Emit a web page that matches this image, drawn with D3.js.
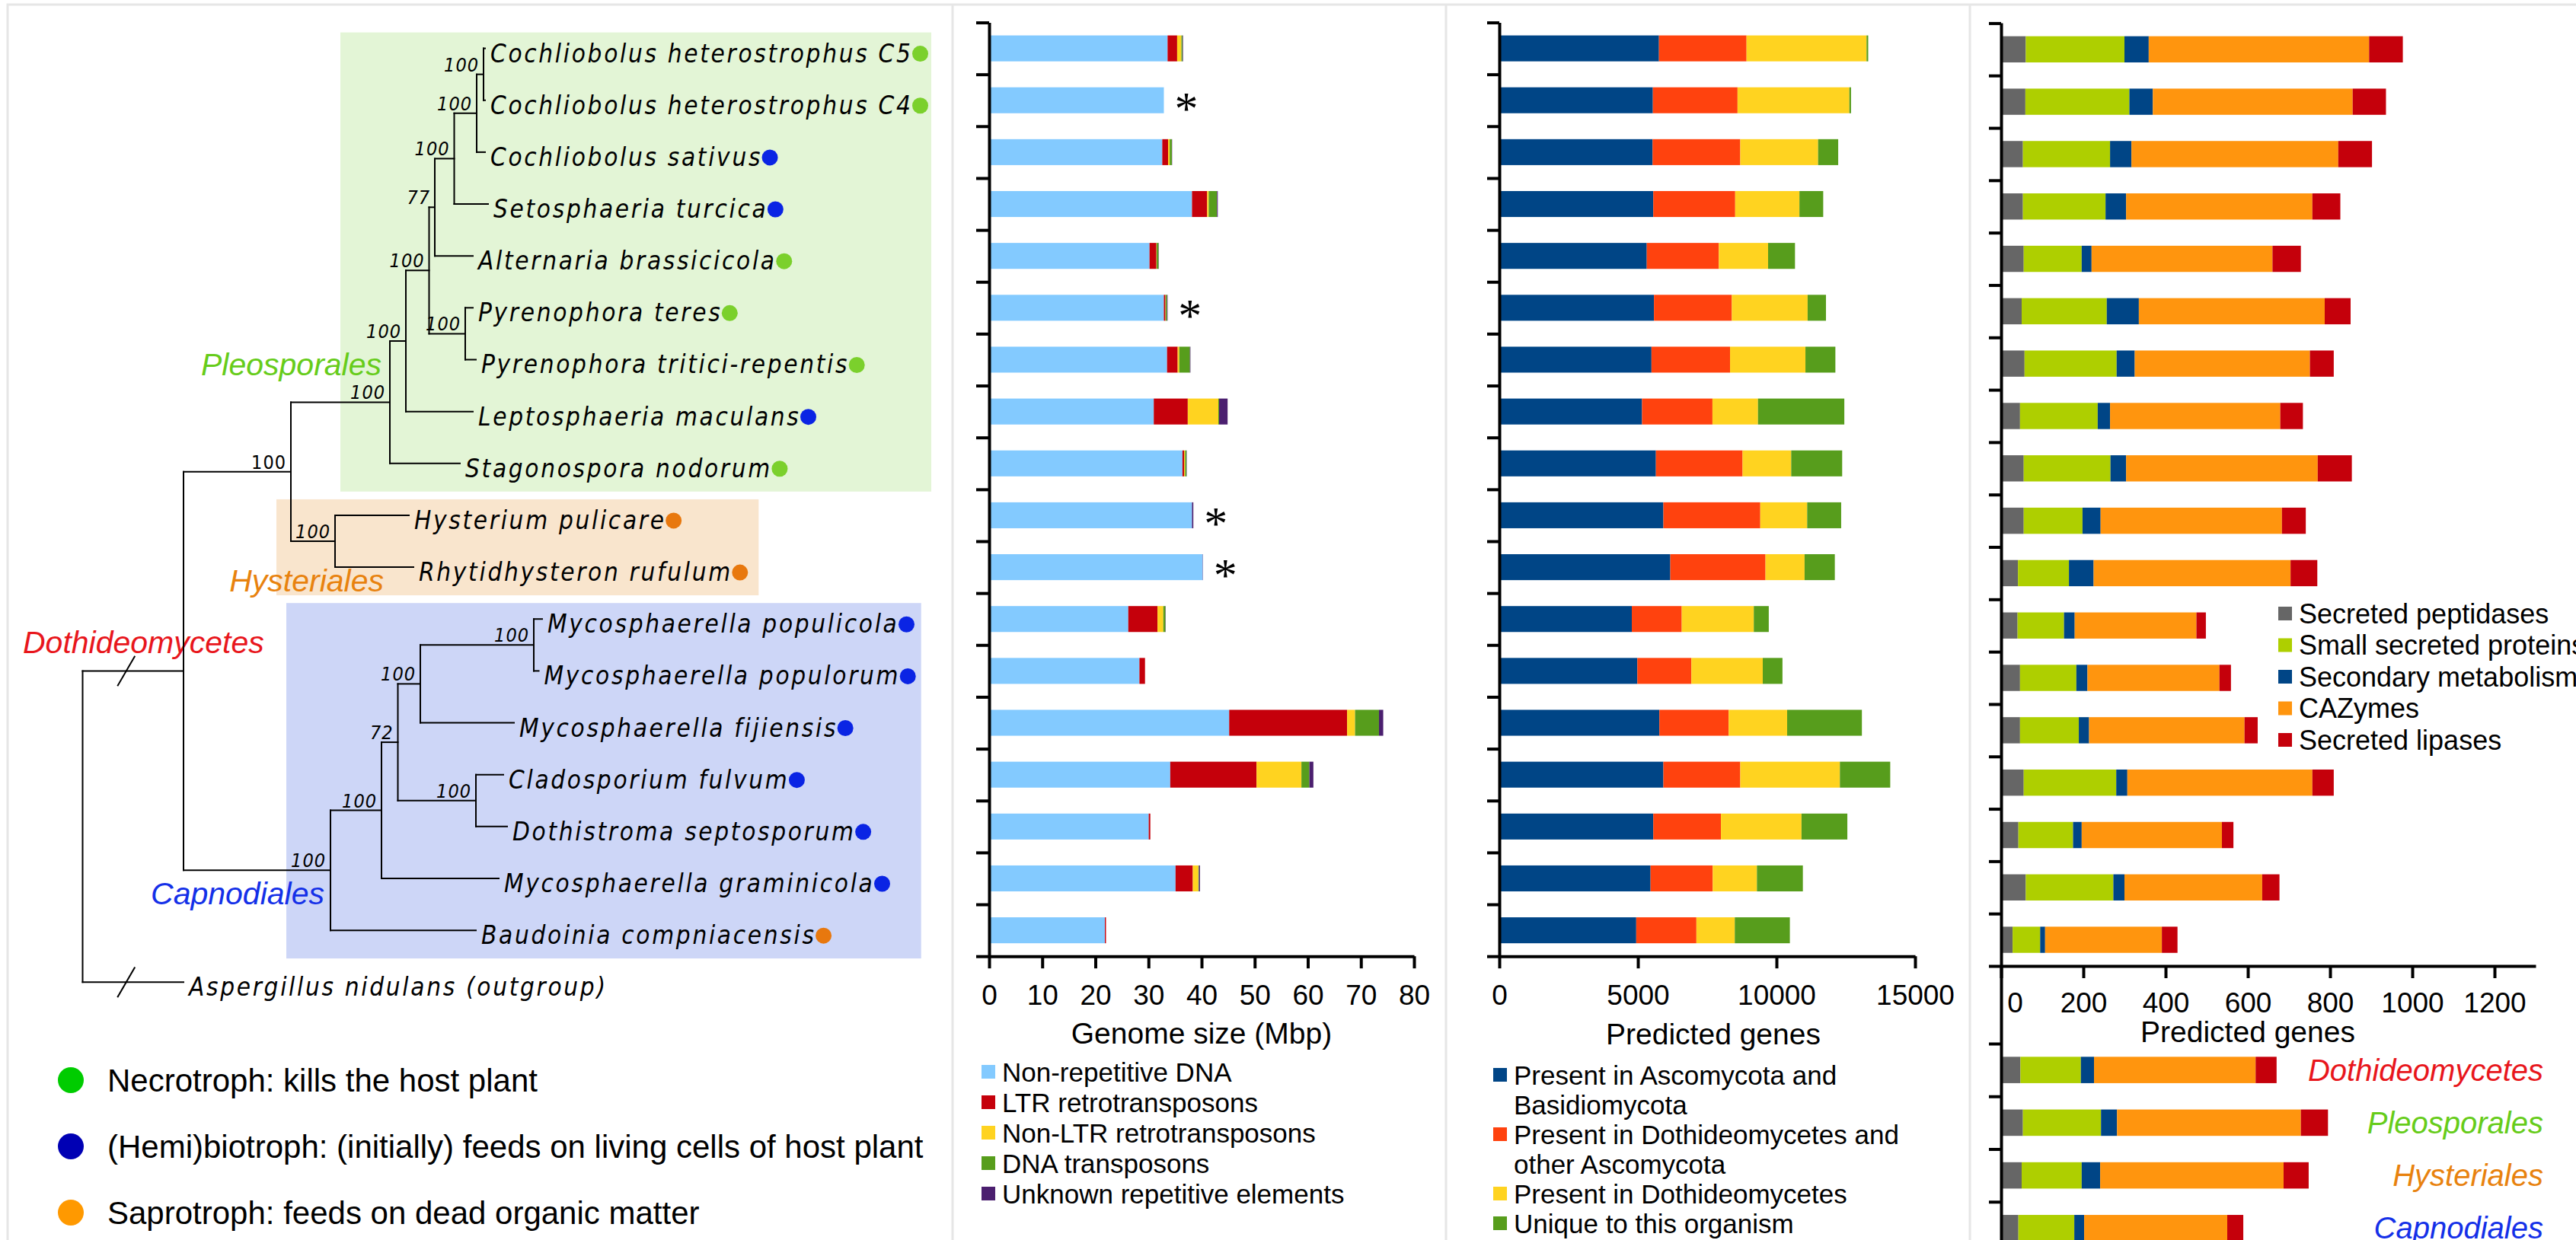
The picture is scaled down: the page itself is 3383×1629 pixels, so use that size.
<!DOCTYPE html>
<html>
<head>
<meta charset="utf-8">
<title>Dothideomycetes genomes: phylogeny, genome size, gene conservation and secretome</title>
<script src="https://cdn.jsdelivr.net/npm/d3@7/dist/d3.min.js"></script>
<style>
  html, body { margin: 0; padding: 0; background: #fff; }
  svg { display: block; }
</style>
</head>
<body>
<svg id="fig" width="3383" height="1629"></svg>
<script>
// ---------------------------------------------------------------------------
// Data
// ---------------------------------------------------------------------------

// Species in tree order, top to bottom
const species = [
  "Cochliobolus heterostrophus C5",
  "Cochliobolus heterostrophus C4",
  "Cochliobolus sativus",
  "Setosphaeria turcica",
  "Alternaria brassicicola",
  "Pyrenophora teres",
  "Pyrenophora tritici-repentis",
  "Leptosphaeria maculans",
  "Stagonospora nodorum",
  "Hysterium pulicare",
  "Rhytidhysteron rufulum",
  "Mycosphaerella populicola",
  "Mycosphaerella populorum",
  "Mycosphaerella fijiensis",
  "Cladosporium fulvum",
  "Dothistroma septosporum",
  "Mycosphaerella graminicola",
  "Baudoinia compniacensis"
];
const outgroupName = "Aspergillus nidulans (outgroup)";

// N = necrotroph, H = (hemi)biotroph, S = saprotroph
const lifestyle = ["N","N","H","H","N","N","N","H","N","S","S","H","H","H","H","H","H","S"];

// Assemblies without repeat annotation (marked with an asterisk)
const draftAssembly = [false,true,false,false,false,true,false,false,false,true,true,false,false,false,false,false,false,false];

// Phylogeny (leaf names are indices into species; 18 = outgroup), with bootstrap support
const newick = "((((((((((0:0.002,1:0.002)100:0.009,2:0.011)100:0.0295,3:0.0445)100:0.0255,4:0.050)77:0.0075,(5:0.010,6:0.014)100:0.0475)100:0.0305,7:0.088)100:0.021,8:0.092)100:0.130,(9:0.097,10:0.103)100:0.058)100:0.141,(((((11:0.011,12:0.0065)100:0.149,13:0.123)100:0.0295,(14:0.036,15:0.041)100:0.1025)72:0.0215,16:0.154)100:0.067,17:0.191)100:0.193):0.1325,18:0.1325);";

// Clades shaded in the tree (first and last species index)
const clades = ["Pleosporales", "Hysteriales", "Capnodiales"];
const cladeFirst = [0, 9, 11];
const cladeLast = [8, 10, 17];

// Genome size composition (Mbp)
const genomeKeys = ["Non-repetitive DNA", "LTR retrotransposons", "Non-LTR retrotransposons", "DNA transposons", "Unknown repetitive elements"];
const nonRepetitive  = [33.6, 32.9, 32.6, 38.2, 30.2, 32.9, 33.5, 31.0, 36.4, 38.2, 40.2, 26.2, 28.3, 45.2, 34.1, 30.05, 35.1, 21.8];
const ltr            = [1.8, 0, 1.1, 2.85, 1.3, 0.3, 2.0, 6.4, 0.3, 0, 0, 5.5, 1.05, 22.2, 16.25, 0.3, 3.25, 0.2];
const nonLtr         = [0.8, 0, 0.3, 0.3, 0.05, 0.05, 0.3, 5.75, 0.2, 0, 0, 1.1, 0, 1.5, 8.45, 0, 1.05, 0];
const dnaTransposons = [0.2, 0, 0.4, 1.55, 0.35, 0.25, 2.0, 0.15, 0.25, 0, 0, 0.4, 0, 4.5, 1.5, 0, 0.1, 0];
const unknownRepeats = [0.1, 0, 0.05, 0.15, 0.05, 0.1, 0.1, 1.6, 0.05, 0.25, 0.05, 0.05, 0, 0.8, 0.75, 0, 0.2, 0];
const genomeTicks = [0, 10, 20, 30, 40, 50, 60, 70, 80];

// Predicted genes by conservation class
const geneKeys = ["Present in Ascomycota and Basidiomycota", "Present in Dothideomycetes and other Ascomycota", "Present in Dothideomycetes", "Unique to this organism"];
const geneLegendLines = [["Present in Ascomycota and", "Basidiomycota"], ["Present in Dothideomycetes and", "other Ascomycota"], ["Present in Dothideomycetes"], ["Unique to this organism"]];
const ascoBasidio = [5760, 5540, 5530, 5555, 5320, 5580, 5490, 5150, 5650, 5920, 6170, 4780, 4980, 5775, 5920, 5555, 5457, 4940];
const dothiAsco   = [3160, 3055, 3165, 2955, 2600, 2810, 2835, 2540, 3127, 3496, 3434, 1802, 1950, 2500, 2775, 2441, 2244, 2171];
const dothiOnly   = [4330, 4035, 2807, 2318, 1778, 2734, 2720, 1643, 1755, 1692, 1410, 2600, 2575, 2110, 3593, 2907, 1594, 1385];
const uniqueGenes = [60, 60, 725, 858, 970, 662, 1080, 3115, 1838, 1226, 1091, 540, 711, 2697, 1816, 1654, 1657, 1987];
const geneTicks = [0, 5000, 10000, 15000];

// Secretome and secondary metabolism gene counts
const secretomeKeys = ["Secreted peptidases", "Small secreted proteins", "Secondary metabolism", "CAZymes", "Secreted lipases"];
const peptidases    = [60, 59, 53, 53, 55, 50, 57, 46, 55, 55, 41, 40, 46, 46, 55, 42, 60, 28];
const smallSecreted = [240, 253, 212, 201, 141, 207, 224, 189, 211, 143, 124, 113, 137, 143, 225, 133, 213, 67];
const secondaryMet  = [59, 57, 52, 50, 24, 78, 44, 30, 38, 44, 60, 26, 27, 25, 27, 21, 27, 12];
const cazymes       = [536, 486, 503, 453, 440, 452, 426, 414, 466, 441, 479, 296, 321, 378, 450, 341, 335, 284];
const lipases       = [82, 81, 82, 68, 69, 63, 58, 55, 83, 58, 65, 23, 28, 32, 52, 28, 42, 38];
const secretomeTicks = [0, 200, 400, 600, 800, 1000, 1200];

// Group averages of the secretome classes
const groups = ["Dothideomycetes", "Pleosporales", "Hysteriales", "Capnodiales"];
const avgPeptidases    = [47, 53, 50, 42];
const avgSmallSecreted = [147, 190, 146, 136];
const avgSecondaryMet  = [32, 39, 45, 24];
const avgCazymes       = [393, 447, 446, 348];
const avgLipases       = [51, 66, 61, 39];

// Lifestyle legend
const lifestyleKeys = ["N", "H", "S"];
const lifestyleText = [
  "Necrotroph: kills the host plant",
  "(Hemi)biotroph: (initially) feeds on living cells of host plant",
  "Saprotroph: feeds on dead organic matter"
];

// ---------------------------------------------------------------------------
// Styles
// ---------------------------------------------------------------------------
const SANS = "'Liberation Sans', Arial, sans-serif";
const TREEFONT = "'DejaVu Sans Condensed', 'DejaVu Sans', sans-serif";
const genomeColors = ["#83caff", "#c5000b", "#ffd320", "#579d1c", "#4b1f6f"];
const geneColors = ["#004586", "#ff420e", "#ffd320", "#579d1c"];
const secretomeColors = ["#666666", "#aecf00", "#004586", "#ff950e", "#c5000b"];
const dotColor = { N: "#7bd02c", H: "#0a24e4", S: "#e8780e" };
const legendDotColor = { N: "#00cc00", H: "#0000b4", S: "#ff9900" };
const cladeFill = { Pleosporales: "#e3f5d6", Hysteriales: "#f9e5cd", Capnodiales: "#cdd6f7" };
const groupColor = { Dothideomycetes: "#e8161c", Pleosporales: "#66cc1a", Hysteriales: "#e8820e", Capnodiales: "#1430e8" };
const plain = d3.format("d");

const svg = d3.select("#fig");
svg.append("rect").attr("width", 3383).attr("height", 1629).attr("fill", "#fff");

// Panel frames
const frame = svg.append("g").attr("stroke", "#e6e6e6").attr("stroke-width", 3).attr("fill", "none");
frame.append("path").attr("d", "M10,1629V6H3383");
[1251, 1899, 2587].forEach(x => frame.append("line").attr("x1", x).attr("x2", x).attr("y1", 6).attr("y2", 1629));

// ---------------------------------------------------------------------------
// Shared row scales
// ---------------------------------------------------------------------------
const yEdge = d3.scaleLinear().domain([0, 18]).range([29.5, 1256.2]);
const yBand = d3.scaleBand().domain(species).range(yEdge.range()).paddingInner(0.5).paddingOuter(0.25);
const rowCenter = i => yEdge(i + 0.5);

function styleAxis(g, fontSize) {
  g.attr("font-family", null).attr("font-size", null);
  g.selectAll(".domain").attr("stroke", "#000").attr("stroke-width", 4);
  g.selectAll(".tick line").attr("stroke", "#000").attr("stroke-width", 4);
  g.selectAll(".tick text").attr("fill", "#000")
    .style("font-family", SANS).style("font-size", fontSize + "px");
}

function drawStack(parent, band, x, keys, series, colors) {
  const rows = band.domain().map((name, i) => {
    const o = { name };
    keys.forEach((k, j) => { o[k] = series[j][i]; });
    return o;
  });
  const stacked = d3.stack().keys(keys)(rows);
  parent.append("g").selectAll("g").data(stacked).join("g")
    .attr("fill", (d, j) => colors[j])
    .selectAll("rect").data(d => d).join("rect")
    .attr("x", d => x(d[0]))
    .attr("width", d => Math.max(0, x(d[1]) - x(d[0])))
    .attr("y", d => band(d.data.name))
    .attr("height", band.bandwidth());
  return rows;
}

function drawLegend(parent, lines, colors, x, y0, lineStep, fontSize) {
  const g = parent.append("g").style("font-family", SANS).style("font-size", fontSize + "px");
  let y = y0;
  lines.forEach((itemLines, j) => {
    g.append("rect").attr("x", x).attr("y", y - 9).attr("width", 18).attr("height", 18).attr("fill", colors[j]);
    itemLines.forEach((t, k) => {
      g.append("text").attr("x", x + 27).attr("y", y + k * lineStep + fontSize * 0.36).text(t);
    });
    y += itemLines.length * lineStep;
  });
}

// ---------------------------------------------------------------------------
// Phylogenetic tree
// ---------------------------------------------------------------------------
function parseNewick(s) {
  let i = 0;
  function node() {
    const n = {};
    if (s[i] === "(") {
      i++;
      n.children = [node()];
      while (s[i] === ",") { i++; n.children.push(node()); }
      i++; // closing parenthesis
    }
    let label = "";
    while (i < s.length && !",():;".includes(s[i])) label += s[i++];
    let len = "";
    if (s[i] === ":") {
      i++;
      while (i < s.length && !",();".includes(s[i])) len += s[i++];
    }
    n.label = label;
    n.length = len === "" ? 0 : +len;
    return n;
  }
  return node();
}

const root = d3.hierarchy(parseNewick(newick), d => d.children);
const xTree = d3.scaleLinear().domain([0, 1]).range([108.5, 1108.5]);
root.each(n => { n.dist = n.parent ? n.parent.dist + n.data.length : 0; n.px = xTree(n.dist); });
root.eachAfter(n => {
  if (n.children) n.py = (n.children[0].py + n.children[n.children.length - 1].py) / 2;
  else n.py = rowCenter(+n.data.label);
});

const treeG = svg.append("g");

// Clade shading
const cladeLeft = { Pleosporales: 447, Hysteriales: 363, Capnodiales: 376 };
const cladeRightPad = { Pleosporales: 4, Hysteriales: 14, Capnodiales: 7 };
const cladeBoxes = treeG.append("g");

// Clade and class names
const nameG = treeG.append("g").style("font-family", SANS).style("font-style", "italic").style("font-size", "41px");
nameG.append("text").attr("x", 30).attr("y", 858).attr("fill", groupColor.Dothideomycetes).text("Dothideomycetes");
nameG.append("text").attr("x", 501).attr("y", 493).attr("text-anchor", "end").attr("fill", groupColor.Pleosporales).text("Pleosporales");
nameG.append("text").attr("x", 504).attr("y", 777).attr("text-anchor", "end").attr("fill", groupColor.Hysteriales).text("Hysteriales");
nameG.append("text").attr("x", 426).attr("y", 1188).attr("text-anchor", "end").attr("fill", groupColor.Capnodiales).text("Capnodiales");

// Branches
const branchG = treeG.append("g").attr("stroke", "#000").attr("stroke-width", 2).attr("stroke-linecap", "square").attr("fill", "none");
root.descendants().forEach(n => {
  if (n.parent) {
    branchG.append("line").attr("x1", n.parent.px).attr("x2", n.px).attr("y1", n.py).attr("y2", n.py);
  }
  if (n.children) {
    branchG.append("line").attr("x1", n.px).attr("x2", n.px)
      .attr("y1", n.children[0].py).attr("y2", n.children[n.children.length - 1].py);
  }
});

// Break marks on the two long basal branches
root.children.forEach(c => {
  const mx = (root.px + c.px) / 2 - 9;
  branchG.append("line").attr("x1", mx - 11).attr("y1", c.py + 19).attr("x2", mx + 11).attr("y2", c.py - 19);
});

// Bootstrap support
const supportG = treeG.append("g").style("font-family", TREEFONT).style("font-size", "25px").style("letter-spacing", "1px");
const orderNode = root.children[0].children[0];
root.descendants().forEach(n => {
  if (n.children && n.parent && n.data.label !== "") {
    supportG.append("text")
      .attr("x", n.px - 6).attr("y", n.py - 4)
      .attr("text-anchor", "end")
      .style("font-style", n === orderNode ? "normal" : "italic")
      .text(n.data.label);
  }
});

// Leaf names and lifestyle dots
const leafG = treeG.append("g").style("font-family", TREEFONT).style("font-style", "italic")
  .style("font-size", "33px").style("letter-spacing", "2.7px");
const dotRight = {};
root.leaves().forEach(n => {
  const idx = +n.data.label;
  const name = idx < species.length ? species[idx] : outgroupName;
  const t = leafG.append("text").attr("x", n.px + 7).attr("y", n.py + 18).text(name);
  if (idx < species.length) {
    const len = t.node().getComputedTextLength();
    const cx = n.px + 7 + len + 10;
    leafG.append("circle").attr("cx", cx).attr("cy", n.py + 7).attr("r", 10.5).attr("fill", dotColor[lifestyle[idx]]);
    dotRight[idx] = cx + 10.5;
  }
});

clades.forEach((c, j) => {
  const top = rowCenter(cladeFirst[j]) - 21;
  const bottom = rowCenter(cladeLast[j]) + 37;
  const right = d3.max(d3.range(cladeFirst[j], cladeLast[j] + 1), i => dotRight[i]) + cladeRightPad[c];
  cladeBoxes.append("rect").attr("x", cladeLeft[c]).attr("y", top)
    .attr("width", right - cladeLeft[c]).attr("height", bottom - top).attr("fill", cladeFill[c]);
});

// Lifestyle legend
const lifeG = svg.append("g").style("font-family", SANS).style("font-size", "42px");
lifestyleKeys.forEach((k, j) => {
  const cy = 1419 + j * 87;
  lifeG.append("circle").attr("cx", 93).attr("cy", cy).attr("r", 17).attr("fill", legendDotColor[k]);
  lifeG.append("text").attr("x", 141).attr("y", cy + 15).text(lifestyleText[j]);
});

// ---------------------------------------------------------------------------
// Panel: genome size
// ---------------------------------------------------------------------------
const x1 = d3.scaleLinear().domain([0, 80]).range([1299, 1857]);
const p1 = svg.append("g");
const genomeRows = drawStack(p1, yBand, x1, genomeKeys,
  [nonRepetitive, ltr, nonLtr, dnaTransposons, unknownRepeats], genomeColors);

// Asterisks for assemblies without repeat annotation
const starG = p1.append("g").style("font-family", "'Liberation Serif', 'Times New Roman', serif").style("font-size", "62px");
genomeRows.forEach((r, i) => {
  if (!draftAssembly[i]) return;
  const total = d3.sum(genomeKeys, k => r[k]);
  starG.append("text").attr("x", x1(total) + 14).attr("y", rowCenter(i) + 31).text("*");
});

p1.append("g").attr("transform", `translate(${x1(0)},0)`)
  .call(d3.axisLeft(yEdge).tickValues(d3.range(19)).tickFormat("").tickSize(17).tickSizeOuter(0))
  .call(g => styleAxis(g, 37));
p1.append("g").attr("transform", `translate(0,${yEdge(18)})`)
  .call(d3.axisBottom(x1).tickValues(genomeTicks).tickFormat(plain).tickSize(16).tickPadding(22).tickSizeOuter(0))
  .call(g => styleAxis(g, 37));
p1.append("text").attr("x", (x1.range()[0] + x1.range()[1]) / 2).attr("y", 1371)
  .attr("text-anchor", "middle").style("font-family", SANS).style("font-size", "39px").text("Genome size (Mbp)");
drawLegend(p1, genomeKeys.map(k => [k]), genomeColors, 1289, 1408, 40, 35);

// ---------------------------------------------------------------------------
// Panel: predicted genes by conservation
// ---------------------------------------------------------------------------
const x2 = d3.scaleLinear().domain([0, 15000]).range([1969, 2515]);
const p2 = svg.append("g");
drawStack(p2, yBand, x2, geneKeys, [ascoBasidio, dothiAsco, dothiOnly, uniqueGenes], geneColors);
p2.append("g").attr("transform", `translate(${x2(0)},0)`)
  .call(d3.axisLeft(yEdge).tickValues(d3.range(19)).tickFormat("").tickSize(16).tickSizeOuter(0))
  .call(g => styleAxis(g, 37));
p2.append("g").attr("transform", `translate(0,${yEdge(18)})`)
  .call(d3.axisBottom(x2).tickValues(geneTicks).tickFormat(plain).tickSize(16).tickPadding(22).tickSizeOuter(0))
  .call(g => styleAxis(g, 37));
p2.append("text").attr("x", 2250).attr("y", 1372)
  .attr("text-anchor", "middle").style("font-family", SANS).style("font-size", "39px").text("Predicted genes");
drawLegend(p2, geneLegendLines, geneColors, 1961, 1412, 39, 35);

// ---------------------------------------------------------------------------
// Panel: secretome
// ---------------------------------------------------------------------------
const x3 = d3.scaleLinear().domain([0, 1300]).range([2628, 3330]);
const yEdge3 = d3.scaleLinear().domain([0, 18]).range([30.4, 1269]);
const yBand3 = d3.scaleBand().domain(species).range(yEdge3.range()).paddingInner(0.5).paddingOuter(0.25);
const avgEdge = d3.scaleLinear().domain([0, 4]).range([1371, 1648]);
const avgBand = d3.scaleBand().domain(groups).range(avgEdge.range()).paddingInner(0.5).paddingOuter(0.25);

const p3 = svg.append("g");
drawStack(p3, yBand3, x3, secretomeKeys, [peptidases, smallSecreted, secondaryMet, cazymes, lipases], secretomeColors);
drawStack(p3, avgBand, x3, secretomeKeys, [avgPeptidases, avgSmallSecreted, avgSecondaryMet, avgCazymes, avgLipases], secretomeColors);

p3.append("g").attr("transform", `translate(${x3(0)},0)`)
  .call(d3.axisLeft(yEdge3).tickValues(d3.range(19)).tickFormat("").tickSize(16).tickSizeOuter(0))
  .call(g => styleAxis(g, 37)).call(g => g.select(".domain").remove());
p3.append("g").attr("transform", `translate(${x3(0)},0)`)
  .call(d3.axisLeft(avgEdge).tickValues(d3.range(4)).tickFormat("").tickSize(16).tickSizeOuter(0))
  .call(g => styleAxis(g, 37)).call(g => g.select(".domain").remove());
p3.append("line").attr("x1", x3(0) + 0.5).attr("x2", x3(0) + 0.5).attr("y1", yEdge3(0)).attr("y2", 1629)
  .attr("stroke", "#000").attr("stroke-width", 4);
p3.append("g").attr("transform", `translate(0,${yEdge3(18)})`)
  .call(d3.axisBottom(x3).tickValues(secretomeTicks).tickFormat(plain).tickSize(16).tickPadding(19).tickSizeOuter(0))
  .call(g => styleAxis(g, 37))
  .call(g => g.selectAll(".tick text").filter(d => d === 0).attr("dx", 18));
p3.append("text").attr("x", (x3(0) + x3(1200)) / 2).attr("y", 1369)
  .attr("text-anchor", "middle").style("font-family", SANS).style("font-size", "39px").text("Predicted genes");
drawLegend(p3, secretomeKeys.map(k => [k]), secretomeColors, 2992, 806, 41.5, 36);

// Group names beside the average bars
const grpG = p3.append("g").style("font-family", SANS).style("font-style", "italic").style("font-size", "40px");
groups.forEach(gname => {
  grpG.append("text").attr("x", 3340).attr("y", avgBand(gname) + avgBand.bandwidth() / 2 + 14)
    .attr("text-anchor", "end").attr("fill", groupColor[gname]).text(gname);
});
</script>
</body>
</html>
